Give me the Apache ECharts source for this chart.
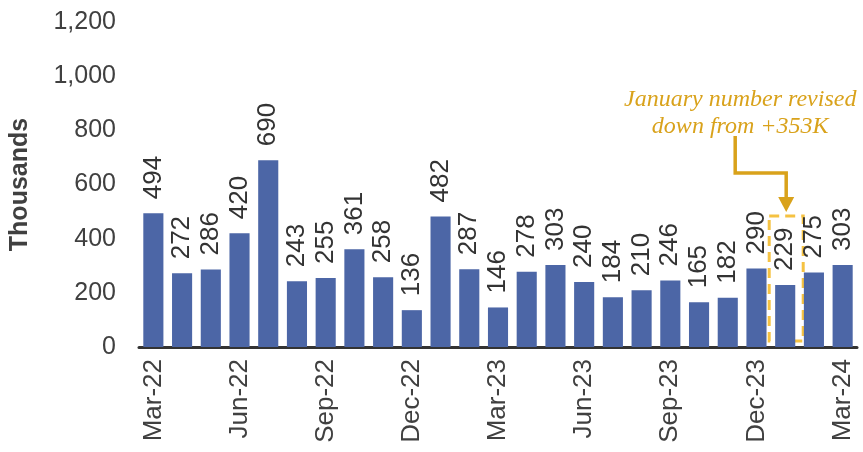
<!DOCTYPE html>
<html>
<head>
<meta charset="utf-8">
<script src="https://cdn.jsdelivr.net/npm/echarts@6/dist/echarts.min.js"></script>
<style>
  html, body { margin: 0; padding: 0; background: #fff; }
  #chart { width: 863px; height: 452px; }
</style>
</head>
<body>
<div id="chart"></div>
<script>
  // 月份与新增就业（千人）
  var months = ['Mar-22', 'Apr-22', 'May-22', 'Jun-22', 'Jul-22', 'Aug-22', 'Sep-22', 'Oct-22', 'Nov-22',
    'Dec-22', 'Jan-23', 'Feb-23', 'Mar-23', 'Apr-23', 'May-23', 'Jun-23', 'Jul-23', 'Aug-23', 'Sep-23',
    'Oct-23', 'Nov-23', 'Dec-23', 'Jan-24', 'Feb-24', 'Mar-24'];
  var payrolls = [494, 272, 286, 420, 690, 243, 255, 361, 258, 136, 482, 287, 146, 278, 303, 240, 184,
    210, 246, 165, 182, 290, 229, 275, 303];
  var yTicks = [0, 200, 400, 600, 800, 1000, 1200];
  var revisedMonth = 'Jan-24';
  var noteLines = ['January number revised', 'down from +353K'];

  var gold = '#D9A21B';
  var font = 'Liberation Sans, Arial, sans-serif';
  var chart = echarts.init(document.getElementById('chart'));

  var option = {
    animation: false,
    grid: { left: 133, right: 6, top: 22, bottom: 105 },
    xAxis: {
      type: 'category',
      data: months,
      axisLine: { lineStyle: { color: '#333', width: 3 } },
      axisTick: { show: false },
      axisLabel: {
        interval: 2,
        rotate: 90,
        color: '#404040',
        fontSize: 26,
        fontFamily: font,
        margin: 12
      }
    },
    yAxis: {
      type: 'value',
      min: yTicks[0],
      max: yTicks[yTicks.length - 1],
      interval: 200,
      name: 'Thousands',
      nameLocation: 'middle',
      nameGap: 106,
      nameTextStyle: {
        fontSize: 25,
        fontWeight: 'bold',
        color: '#404040',
        fontFamily: font
      },
      splitLine: { show: false },
      axisLine: { show: false },
      axisTick: { show: false },
      axisLabel: {
        color: '#404040',
        fontSize: 25,
        margin: 23,
        fontFamily: font,
        formatter: function (v) { return v.toLocaleString('en-US'); }
      }
    },
    series: [{
      type: 'bar',
      data: payrolls,
      barCategoryGap: '30%',
      itemStyle: { color: '#4C66A6' },
      label: {
        show: true,
        position: 'top',
        rotate: 90,
        align: 'left',
        verticalAlign: 'middle',
        distance: 14,
        color: '#333',
        fontSize: 26,
        fontFamily: font
      }
    }]
  };
  chart.setOption(option);

  // 注释：虚线框 + 折线箭头 + 文字
  var idx = months.indexOf(revisedMonth);
  var bx = chart.convertToPixel({ xAxisIndex: 0 }, revisedMonth);
  var y0 = chart.convertToPixel({ yAxisIndex: 0 }, 0);
  var yTop = chart.convertToPixel({ yAxisIndex: 0 }, 484);
  var textX = bx - 45;
  var arrowTopY = 136;
  var bendY = 173;
  chart.setOption({
    graphic: [
      {
        type: 'rect',
        shape: { x: bx - 16, y: yTop, width: 34, height: y0 - yTop - 6 },
        style: { fill: 'none', stroke: '#F5C242', lineWidth: 3, lineDash: [10, 6] }
      },
      {
        type: 'polyline',
        shape: { points: [[textX - 5, arrowTopY], [textX - 5, bendY], [bx + 1, bendY], [bx + 1, yTop - 18]] },
        style: { fill: 'none', stroke: gold, lineWidth: 3.5 }
      },
      {
        type: 'polygon',
        shape: { points: [[bx - 7, yTop - 19], [bx + 9, yTop - 19], [bx + 1, yTop - 4]] },
        style: { fill: gold }
      },
      {
        type: 'text',
        style: {
          text: noteLines.join('\n'),
          x: textX,
          y: 113,
          align: 'center',
          verticalAlign: 'middle',
          lineHeight: 27,
          fill: gold,
          fontSize: 24,
          fontStyle: 'italic',
          fontFamily: 'Liberation Serif, Georgia, serif'
        }
      }
    ]
  });
</script>
</body>
</html>
